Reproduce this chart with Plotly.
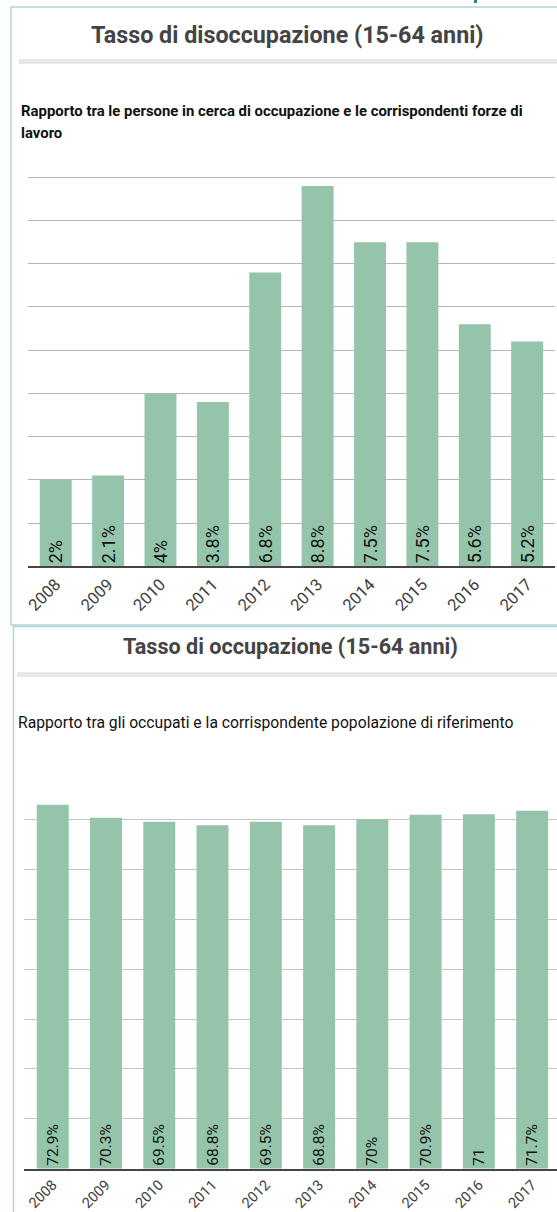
import plotly.graph_objects as go

# ---- data ----
years = ["2008", "2009", "2010", "2011", "2012", "2013", "2014", "2015", "2016", "2017"]
unemployment = [2.0, 2.1, 4.0, 3.8, 6.8, 8.8, 7.5, 7.5, 5.6, 5.2]
unemployment_labels = ["2%", "2.1%", "4%", "3.8%", "6.8%", "8.8%", "7.5%", "7.5%", "5.6%", "5.2%"]
employment = [72.9, 70.3, 69.5, 68.8, 69.5, 68.8, 70.0, 70.9, 71.0, 71.7]
employment_labels = ["72.9%", "70.3%", "69.5%", "68.8%", "69.5%", "68.8%", "70%", "70.9%", "71", "71.7%"]

title1 = "Tasso di disoccupazione (15-64 anni)"
subtitle1_a = "Rapporto tra le persone in cerca di occupazione e le corrispondenti forze di"
subtitle1_b = "lavoro"
title2 = "Tasso di occupazione (15-64 anni)"
subtitle2 = "Rapporto tra gli occupati e la corrispondente popolazione di riferimento"

# ---- layout helpers ----
W, H = 557, 1212
def fx(px):
    return px / W
def fy(py):
    return 1 - py / H

BAR = "#94c5ab"
FONT = "Roboto"

fig = go.Figure()
fig.add_trace(go.Bar(
    x=years, y=unemployment, text=unemployment_labels,
    textposition="inside", insidetextanchor="start", textangle=-90, constraintext="none",
    textfont=dict(family=FONT, size=18, color="#111111"),
    marker=dict(color=BAR, line=dict(width=0)), width=0.61,
    xaxis="x", yaxis="y", hoverinfo="skip"))
fig.add_trace(go.Bar(
    x=years, y=employment, text=employment_labels,
    textposition="inside", insidetextanchor="start", textangle=-90, constraintext="none",
    textfont=dict(family=FONT, size=15.5, color="#111111"),
    marker=dict(color=BAR, line=dict(width=0)), width=0.6,
    xaxis="x2", yaxis="y2", hoverinfo="skip"))

axis_common_x = dict(type="category", showline=True, linecolor="#444444", linewidth=2,
                     tickangle=-45, ticks="", showgrid=False, zeroline=False, fixedrange=True)
fig.update_layout(
    width=W, height=H, margin=dict(l=0, r=0, t=0, b=0),
    paper_bgcolor="white", plot_bgcolor="white", showlegend=False,
    font=dict(family=FONT),
    xaxis=dict(**axis_common_x, domain=[fx(25), fx(555)], range=[-0.532, 9.532], anchor="y",
               tickfont=dict(family=FONT, size=16.5, color="#404040")),
    yaxis=dict(domain=[fy(567.3), fy(176.3)], range=[0, 9.03], tick0=0, dtick=1, showticklabels=False,
               gridcolor="#b5b5b5", gridwidth=1, zeroline=False, anchor="x", fixedrange=True),
    xaxis2=dict(**axis_common_x, domain=[fx(20.7), 1], range=[-0.547, 9.467], anchor="y2",
                tickfont=dict(family=FONT, size=14.5, color="#404040")),
    yaxis2=dict(domain=[fy(1170.7), fy(769.7)], range=[0, 80.2], tick0=0, dtick=10, showticklabels=False,
                gridcolor="#c4c4c4", gridwidth=1, zeroline=False, anchor="x2", fixedrange=True),
)

shapes = [
    # panel borders
    dict(type="rect", xref="paper", yref="paper", x0=fx(8), x1=fx(700), y0=fy(626), y1=fy(7),
         line=dict(color="#b0d6d6", width=1.5), fillcolor="rgba(0,0,0,0)", layer="below"),
    dict(type="rect", xref="paper", yref="paper", x0=fx(10.5), x1=fx(700), y0=fy(1400), y1=fy(627.5),
         line=dict(color="#b0d6d6", width=1.5), fillcolor="rgba(0,0,0,0)", layer="below"),
    # grey rules under titles
    dict(type="rect", xref="paper", yref="paper", x0=fx(16), x1=1, y0=fy(64), y1=fy(59),
         line=dict(width=0), fillcolor="#e7e7e7", layer="below"),
    dict(type="rect", xref="paper", yref="paper", x0=fx(14), x1=1, y0=fy(678), y1=fy(673),
         line=dict(width=0), fillcolor="#e7e7e7", layer="below"),
    # small fragment of page element above the first panel
    dict(type="rect", xref="paper", yref="paper", x0=fx(473.5), x1=fx(476.5), y0=fy(3), y1=1,
         line=dict(width=0), fillcolor="#2e7d7d", layer="below"),
]
fig.update_layout(shapes=shapes)

annotations = [
    dict(text=title1, x=fx(286), y=fy(35), xanchor="center", yanchor="middle",
         font=dict(family=FONT, size=23.3, color="#444444", weight=700)),
    dict(text=subtitle1_a, x=fx(16), y=fy(111), xanchor="left", yanchor="middle",
         font=dict(family=FONT, size=14.9, color="#111111", weight=700)),
    dict(text=subtitle1_b, x=fx(16), y=fy(133), xanchor="left", yanchor="middle",
         font=dict(family=FONT, size=14.9, color="#111111", weight=700)),
    dict(text=title2, x=fx(289), y=fy(648), xanchor="center", yanchor="middle",
         font=dict(family=FONT, size=21.6, color="#444444", weight=700)),
    dict(text=subtitle2, x=fx(13), y=fy(724), xanchor="left", yanchor="middle",
         font=dict(family=FONT, size=15.7, color="#111111")),
]
for a in annotations:
    a.update(xref="paper", yref="paper", showarrow=False)
fig.update_layout(annotations=annotations)

fig.write_html("out.html", config={"displayModeBar": False},
               post_script="document.body.style.margin='0';document.body.style.overflow='hidden';")
